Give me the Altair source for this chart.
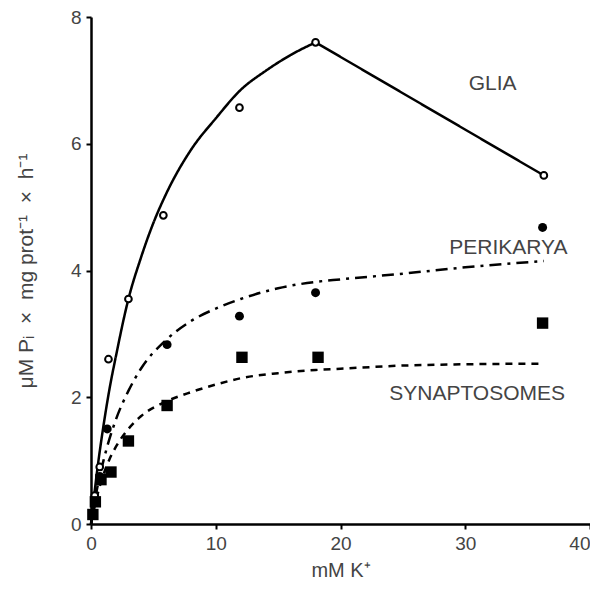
import altair as alt
import pandas as pd

# Measured points
glia_x = [0.3, 0.7, 1.4, 3.0, 5.8, 11.9, 18.0, 36.3]
glia_y = [0.45, 0.9, 2.6, 3.55, 4.87, 6.57, 7.6, 5.5]
peri_x = [0.3, 0.7, 1.3, 6.1, 11.9, 18.0, 36.2]
peri_y = [0.35, 0.75, 1.5, 2.83, 3.28, 3.65, 4.68]
syn_x = [0.15, 0.35, 0.8, 1.6, 3.0, 6.1, 12.1, 18.2, 36.2]
syn_y = [0.15, 0.35, 0.7, 0.82, 1.31, 1.87, 2.63, 2.63, 3.17]

# Fitted curves
glia_cx = [0, 0.5, 1, 1.5, 2, 3, 4, 5, 6, 8, 10, 12, 14, 16, 18]
glia_cy = [0, 0.85, 1.55, 2.15, 2.65, 3.55, 4.2, 4.75, 5.2, 5.9, 6.4, 6.85, 7.15, 7.4, 7.6]
glia_seg_x = [18, 36.3]
glia_seg_y = [7.6, 5.5]
peri_cx = [0, 0.5, 1, 2, 3, 4, 6, 8, 10, 12, 15, 18, 20, 25, 30, 36.3]
peri_cy = [0, 0.57, 1.0, 1.65, 2.1, 2.45, 2.9, 3.2, 3.4, 3.55, 3.72, 3.82, 3.86, 3.95, 4.05, 4.15]
syn_cx = [0, 0.5, 1, 1.5, 2, 3, 4, 6, 8, 10, 12, 15, 18, 20, 25, 30, 36.3]
syn_cy = [0, 0.45, 0.78, 1.03, 1.22, 1.5, 1.7, 1.93, 2.08, 2.2, 2.3, 2.38, 2.43, 2.45, 2.5, 2.52, 2.53]

labels = ["GLIA", "PERIKARYA", "SYNAPTOSOMES"]
label_x = [32.2, 38.2, 38.0]
label_y = [6.94, 4.36, 2.05]
label_align = ["center", "right", "right"]

x_ticks = [0, 10, 20, 30, 40]
y_ticks = [0, 2, 4, 6, 8]
NB = "\u00a0"
y_title = f"μM{NB}Pᵢ{NB}{NB}×{NB}{NB}mg{NB}prot⁻¹{NB}{NB}×{NB}{NB}h⁻¹"
x_title = "mM K⁺"

FONT = "Liberation Sans"
XS = alt.Scale(domain=[0, 40], nice=False, zero=False)
YS = alt.Scale(domain=[0, 8], nice=False, zero=False)


def xenc():
    return alt.X("x:Q", scale=XS,
                 axis=alt.Axis(values=x_ticks, title=x_title, titlePadding=7,
                               titleFontSize=20,
                               labelAlign={"condition": {"test": "datum.value == 40", "value": "right"},
                                           "value": "center"}))


def yenc():
    return alt.Y("y:Q", scale=YS,
                 axis=alt.Axis(values=y_ticks, title=y_title, titlePadding=34,
                               titleFontSize=21))


def curve(xs, ys, dash, interp="monotone"):
    df = pd.DataFrame({"x": xs, "y": ys})
    m = alt.Chart(df).mark_line(color="black", strokeWidth=2.5,
                                interpolate=interp,
                                strokeDash=dash if dash else [1, 0])
    return m.encode(x=xenc(), y=yenc())


def pts(xs, ys, shape, filled, size):
    df = pd.DataFrame({"x": xs, "y": ys})
    if filled:
        m = alt.Chart(df).mark_point(shape=shape, filled=True, color="black",
                                     size=size, opacity=1)
    else:
        m = alt.Chart(df).mark_point(shape=shape, filled=True, fill="white",
                                     stroke="black", strokeWidth=2,
                                     size=size, opacity=1)
    return m.encode(x=xenc(), y=yenc())


layers = [
    curve(glia_cx, glia_cy, None),
    curve(glia_seg_x, glia_seg_y, None, "linear"),
    curve(peri_cx, peri_cy, [12, 6, 3, 6]),
    curve(syn_cx, syn_cy, [7, 6]),
    pts(glia_x, glia_y, "circle", False, 45),
    pts(peri_x, peri_y, "circle", True, 80),
    pts(syn_x, syn_y, "square", True, 130),
]

for lab, lx, ly, al in zip(labels, label_x, label_y, label_align):
    df = pd.DataFrame({"x": [lx], "y": [ly], "t": [lab]})
    layers.append(
        alt.Chart(df).mark_text(font=FONT, fontSize=21, color="#444",
                                align=al, baseline="middle")
        .encode(x=xenc(), y=yenc(), text="t:N")
    )

chart = alt.layer(*layers).properties(
    width=499, height=507,
    autosize=alt.AutoSizeParams(type="none"),
    padding={"left": 83, "top": 9, "right": 0, "bottom": 55},
).configure_view(stroke=None).configure_axis(
    grid=False, domainColor="black", domainWidth=2.5, tickColor="black",
    tickWidth=2, tickSize=5, labelColor="#444", labelFont=FONT,
    labelFontSize=19, labelPadding=5, titleFont=FONT, titleFontSize=19,
    titleColor="#444", titleFontWeight="normal",
)

chart.save("out.html", embed_options={"renderer": "svg", "actions": False})
